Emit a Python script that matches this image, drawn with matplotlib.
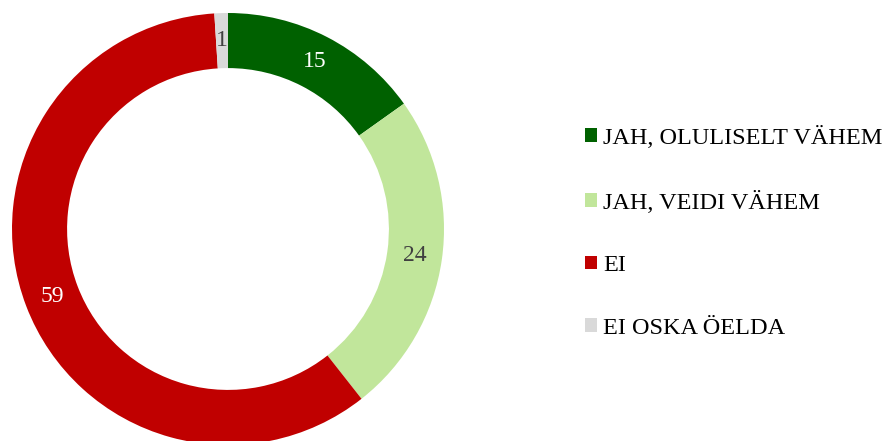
import matplotlib.pyplot as plt
from matplotlib.patches import Patch
import numpy as np

# answers and shares (%)
labels = ['JAH, OLULISELT VÄHEM', 'JAH, VEIDI VÄHEM', 'EI', 'EI OSKA ÖELDA']
values = [15, 24, 59, 1]
colors = ['#006100', '#c1e69b', '#c00000', '#d9d9d9']
text_colors = ['white', '#404040', 'white', '#404040']

plt.rcParams['font.family'] = ['Liberation Serif', 'DejaVu Serif']

W, H = 883, 441
fig = plt.figure(figsize=(W / 100, H / 100), dpi=100)
# donut centre at (228, 212) px, outer radius 216 px
cx, cy, r = 228, 212, 216
ax = fig.add_axes([(cx - r) / W, (cy - r) / H, 2 * r / W, 2 * r / H])

wedges, _ = ax.pie(values, colors=colors, startangle=90, counterclock=False,
                   radius=1, wedgeprops=dict(width=0.255, linewidth=0))
ax.set_xlim(-1, 1)
ax.set_ylim(-1, 1)
ax.set_aspect('equal')
ax.axis('off')

# value labels in the middle of the ring
total = sum(values)
start = 90
for v, c in zip(values, text_colors):
    mid = np.deg2rad(start - v / total * 360 / 2)
    start -= v / total * 360
    ax.text(0.873 * np.cos(mid), 0.873 * np.sin(mid), str(v), color=c,
            fontsize=17, ha='center', va='center')

handles = [Patch(facecolor=c, edgecolor='none') for c in colors]
fig.legend(handles, labels, loc='upper left', bbox_to_anchor=(585 / W, 1 - 126 / H),
           frameon=False, fontsize=17.5, handlelength=0.5, handleheight=0.5,
           handletextpad=0.25, labelspacing=1.71, borderpad=0, borderaxespad=0)

fig.savefig('out.png', dpi=100)
